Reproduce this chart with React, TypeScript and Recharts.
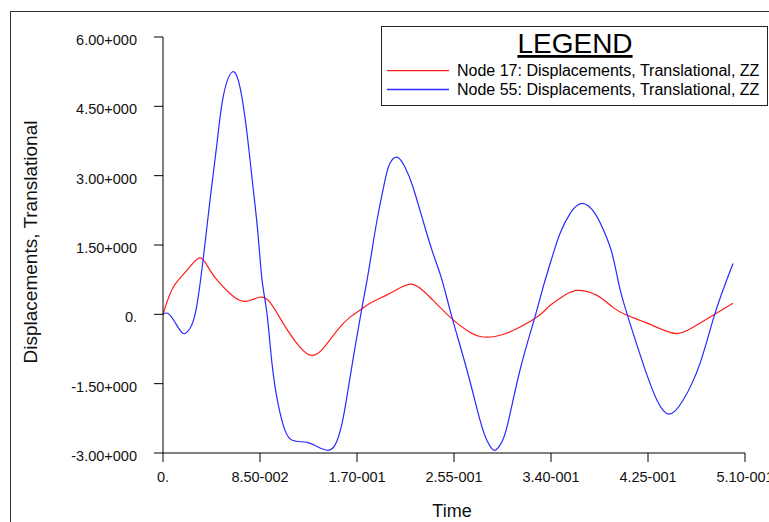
import { LineChart, Line, XAxis, YAxis, Legend } from 'recharts';

const FONT = '"Liberation Sans", Arial, sans-serif';

const xTicks = [0, 0.085, 0.17, 0.255, 0.34, 0.425, 0.51];
const xTickLabels = ['0.', '8.50-002', '1.70-001', '2.55-001', '3.40-001', '4.25-001', '5.10-001'];
const yTicks = [-3, -1.5, 0, 1.5, 3, 4.5, 6];
const yTickLabels = ['-3.00+000', '-1.50+000', '0.', '1.50+000', '3.00+000', '4.50+000', '6.00+000'];

const seriesNames = [
  'Node 17: Displacements, Translational, ZZ',
  'Node 55: Displacements, Translational, ZZ',
];
const seriesColors = ['#ff1e1e', '#2a2aff'];

// Node 17 response (time in s, ZZ displacement)
const node17Time = [
  0, 0.0088, 0.021, 0.0324, 0.0412, 0.0499, 0.0587, 0.0675, 0.0762, 0.085,
  0.0938, 0.1052, 0.12, 0.1306, 0.1402, 0.1525, 0.1639, 0.1726, 0.1814, 0.1945,
  0.2059, 0.2191, 0.234, 0.2515, 0.2664, 0.2778, 0.2909, 0.3067, 0.3277, 0.3391,
  0.3523, 0.3637, 0.3803, 0.3943, 0.4066, 0.4241, 0.4443, 0.4592, 0.482, 0.4995,
];
const node17Disp = [
  0, 0.58, 0.95, 1.22, 0.95, 0.67, 0.45, 0.3, 0.3, 0.37,
  0.26, -0.19, -0.71, -0.89, -0.74, -0.35, -0.06, 0.09, 0.24, 0.4,
  0.55, 0.65, 0.37, -0.06, -0.35, -0.48, -0.48, -0.35, -0.06, 0.19,
  0.42, 0.52, 0.41, 0.15, -0.02, -0.19, -0.39, -0.35, -0.02, 0.24,
];

// Node 55 response
const node55Time = [
  0, 0.0044, 0.0105, 0.0175, 0.0237, 0.0289, 0.0351, 0.0412, 0.0473, 0.0526,
  0.0605, 0.0675, 0.0736, 0.0789, 0.0832, 0.0868, 0.0911, 0.0955, 0.1008, 0.1069,
  0.1139, 0.1262, 0.135, 0.1437, 0.1507, 0.1569, 0.1621, 0.1683, 0.1744, 0.1788,
  0.1831, 0.1875, 0.1945, 0.1989, 0.2051, 0.2121, 0.2191, 0.2278, 0.2366, 0.2445,
  0.2532, 0.2664, 0.2778, 0.2839, 0.29, 0.2953, 0.3014, 0.3128, 0.3259, 0.333,
  0.3409, 0.3479, 0.3567, 0.3672, 0.3786, 0.3873, 0.3935, 0.3987, 0.4049, 0.4206,
  0.4329, 0.4434, 0.4557, 0.4706, 0.4837, 0.4995,
];
const node55Disp = [
  0, 0.02, -0.17, -0.41, -0.3, 0.09, 1.17, 2.47, 3.7, 4.69,
  5.24, 4.91, 3.92, 2.75, 1.75, 0.74, 0.02, -1.06, -1.93, -2.51,
  -2.73, -2.77, -2.86, -2.94, -2.83, -2.36, -1.64, -0.71, 0.15, 0.74,
  1.38, 2.03, 2.9, 3.27, 3.4, 3.18, 2.75, 2.03, 1.32, 0.74,
  -0.06, -1.21, -2.29, -2.73, -2.94, -2.83, -2.44, -1.21, -0.06, 0.58,
  1.23, 1.75, 2.18, 2.4, 2.18, 1.75, 1.32, 0.74, 0.15, -1.06,
  -1.86, -2.16, -1.86, -1.06, 0.02, 1.1,
];

const node17 = node17Time.map((t, i) => ({ t, z: node17Disp[i] }));
const node55 = node55Time.map((t, i) => ({ t, z: node55Disp[i] }));

function XTick({ x, y, payload }: any) {
  const i = xTicks.indexOf(payload.value);
  return (
    <text x={x} y={y + 20} textAnchor="middle" fontSize={14.5} fill="#111" fontFamily={FONT}>
      {xTickLabels[i]}
    </text>
  );
}

function YTick({ x, y, payload }: any) {
  const i = yTicks.indexOf(payload.value);
  return (
    <text x={x} y={y + 8} textAnchor="end" fontSize={14.5} fill="#111" fontFamily={FONT}>
      {yTickLabels[i]}
    </text>
  );
}

function renderYLabel() {
  return (
    <text
      x={37}
      y={242}
      transform="rotate(-90, 37, 242)"
      textAnchor="middle"
      fontSize={19}
      fill="#111"
      fontFamily={FONT}
    >
      Displacements, Translational
    </text>
  );
}

function renderXLabel() {
  return (
    <text x={452} y={517} textAnchor="middle" fontSize={18} fill="#111" fontFamily={FONT}>
      Time
    </text>
  );
}

function LegendBox() {
  return (
    <svg width={388} height={81} style={{ display: 'block' }}>
      <rect x={0.5} y={0.5} width={386} height={79} fill="#fff" stroke="#222" />
      <text
        x={194}
        y={27}
        textAnchor="middle"
        fontSize={28}
        fill="#000"
        fontFamily={FONT}
        textDecoration="underline"
      >
        LEGEND
      </text>
      {seriesNames.map((name, i) => (
        <g key={name}>
          <line x1={6} x2={68} y1={44.7 + i * 18.8} y2={44.7 + i * 18.8} stroke={seriesColors[i]} strokeWidth={1.3} />
          <text x={76} y={50 + i * 19.3} fontSize={16} fill="#000" fontFamily={FONT}>
            {name}
          </text>
        </g>
      ))}
    </svg>
  );
}

export default function App() {
  return (
    <div
      style={{
        position: 'fixed',
        left: 0,
        top: 0,
        width: 769,
        height: 522,
        background: '#fff',
        overflow: 'hidden',
      }}
    >
      <div
        style={{
          position: 'absolute',
          left: 10,
          top: 11,
          width: 800,
          height: 600,
          borderTop: '1px solid #333',
          borderLeft: '1px solid #333',
        }}
      />
      <div style={{ position: 'absolute', left: 0, top: 0 }}>
        <LineChart width={769} height={522} margin={{ top: 37, right: 24, bottom: 0, left: 0 }}>
          <XAxis
            type="number"
            dataKey="t"
            domain={[0, 0.51]}
            ticks={xTicks}
            height={69}
            tickSize={9}
            tickMargin={0}
            tick={<XTick />}
            axisLine={{ stroke: '#000' }}
            tickLine={{ stroke: '#000' }}
            label={renderXLabel}
            allowDataOverflow
          />
          <YAxis
            type="number"
            domain={[-3, 6]}
            ticks={yTicks}
            width={163}
            tickSize={9}
            tickMargin={17}
            tick={<YTick />}
            axisLine={{ stroke: '#000' }}
            tickLine={{ stroke: '#000' }}
            label={renderYLabel}
            allowDataOverflow
          />
          <Legend
            layout="horizontal"
            verticalAlign="middle"
            align="center"
            wrapperStyle={{ position: 'absolute', left: 381, top: 26, width: 388, height: 81 }}
            content={() => <LegendBox />}
          />
          <Line
            data={node17}
            dataKey="z"
            type="natural"
            stroke={seriesColors[0]}
            strokeWidth={1.2}
            dot={false}
            isAnimationActive={false}
          />
          <Line
            data={node55}
            dataKey="z"
            type="natural"
            stroke={seriesColors[1]}
            strokeWidth={1.2}
            dot={false}
            isAnimationActive={false}
          />
        </LineChart>
      </div>
    </div>
  );
}
